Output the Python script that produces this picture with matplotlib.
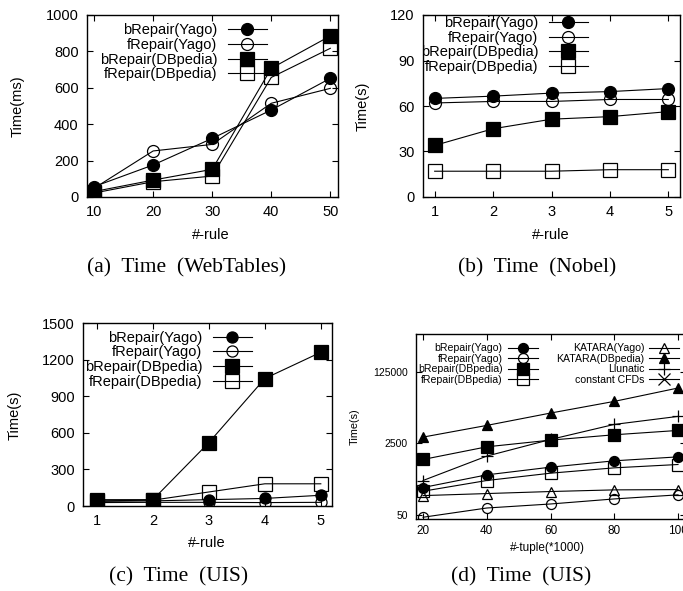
import numpy as np
import matplotlib
matplotlib.use("Agg")
import matplotlib.pyplot as plt
from matplotlib.ticker import NullLocator, FixedLocator, FixedFormatter

# ---- data ----
rules_a = [10, 20, 30, 40, 50]
brepair_yago_a = [57, 176, 322, 478, 652]
frepair_yago_a = [48, 253, 289, 515, 597]
brepair_dbp_a = [30, 93, 152, 707, 885]
frepair_dbp_a = [22, 84, 115, 657, 817]

rules_b = [1, 2, 3, 4, 5]
brepair_yago_b = [65, 66.5, 68.5, 69.5, 71.5]
frepair_yago_b = [62, 63, 63, 64.3, 64.3]
brepair_dbp_b = [34, 45, 51.3, 53, 56.3]
frepair_dbp_b = [17, 17, 17, 18, 18]

rules_c = [1, 2, 3, 4, 5]
brepair_yago_c = [38, 42, 52, 62, 88]
frepair_yago_c = [28, 30, 30, 28, 30]
brepair_dbp_c = [52, 52, 520, 1045, 1260]
frepair_dbp_c = [42, 48, 115, 182, 182]

tuples_d = [20, 40, 60, 80, 100]
brepair_yago_d = [224, 448, 683, 967, 1200]
frepair_yago_d = [44, 73, 91, 120, 150]
brepair_dbp_d = [1040, 2080, 3000, 4020, 5100]
frepair_dbp_d = [183, 329, 491, 658, 790]
katara_yago_d = [144, 161, 180, 197, 200]
katara_dbp_d = [3540, 6710, 13200, 25000, 52000]
llunatic_d = [329, 1250, 3110, 7090, 11000]
cfd_d = []  # listed in the legend, no points drawn

yticks_a = [0, 200, 400, 600, 800, 1000]
yticks_b = [0, 30, 60, 90, 120]
yticks_c = [0, 300, 600, 900, 1200, 1500]
yticks_d = [50, 2500, 125000]

series_names = ["bRepair(Yago)", "fRepair(Yago)", "bRepair(DBpedia)", "fRepair(DBpedia)"]

W, H = 683, 591
plt.rcParams["font.family"] = ["Liberation Sans", "DejaVu Sans"]
fig = plt.figure(figsize=(W / 100, H / 100), dpi=100)


def axes_px(l, t, r, b):
    return fig.add_axes([l / W, 1 - b / H, (r - l) / W, (b - t) / H])


def fig_text(x, y, s, **kw):
    fig.text(x / W, 1 - y / H, s, ha="center", va="center", **kw)


def style_axes(ax, fs, pad=6):
    ax.tick_params(direction="in", top=True, right=True, length=4, width=0.8,
                   labelsize=fs, pad=pad)
    for sp in ax.spines.values():
        sp.set_linewidth(1.0)


def plot_four(ax, x, ys, msc, mss, mew=0.9, lw=0.8):
    markers = ["o", "o", "s", "s"]
    fills = ["black", "none", "black", "none"]
    sizes = [msc, msc, mss, mss]
    for y, m, f, s, name in zip(ys, markers, fills, sizes, series_names):
        ax.plot(x, y, color="black", lw=lw, marker=m, ms=s, mfc=f, mec="black",
                mew=mew, label=name)


FS = 10.5
CAP = 15.5
leg_kw = dict(frameon=False, markerfirst=False, borderpad=0, borderaxespad=0,
              handletextpad=0.7, labelspacing=0.05)

# (a) WebTables
ax = axes_px(87, 15, 338, 197)
plot_four(ax, rules_a, [brepair_yago_a, frepair_yago_a, brepair_dbp_a, frepair_dbp_a], 8.6, 9.4)
ax.set_xlim(8.8, 51.3)
ax.set_ylim(0, 1000)
ax.set_xticks(rules_a)
ax.set_yticks(yticks_a)
style_axes(ax, FS)
ax.legend(loc="upper right", bbox_to_anchor=(0.717, 0.955), fontsize=FS,
          handlelength=2.7, **leg_kw)
fig_text(18, 106, "Time(ms)", rotation=90, fontsize=FS)
fig_text(211, 235, "#-rule", fontsize=FS)
fig_text(187, 268, "(a)  Time  (WebTables)", fontsize=CAP, family="Liberation Serif")

# (b) Nobel
ax = axes_px(423, 15, 680, 197)
plot_four(ax, rules_b, [brepair_yago_b, frepair_yago_b, brepair_dbp_b, frepair_dbp_b], 8.6, 10)
ax.set_xlim(0.8, 5.2)
ax.set_ylim(0, 120)
ax.set_xticks(rules_b)
ax.set_yticks(yticks_b)
style_axes(ax, FS)
ax.legend(loc="upper right", bbox_to_anchor=(0.642, 0.995), fontsize=FS,
          handlelength=2.7, **leg_kw)
fig_text(363, 106, "Time(s)", rotation=90, fontsize=FS)
fig_text(551, 235, "#-rule", fontsize=FS)
fig_text(537, 268, "(b)  Time  (Nobel)", fontsize=CAP, family="Liberation Serif")

# (c) UIS
ax = axes_px(83, 323, 332, 506)
plot_four(ax, rules_c, [brepair_yago_c, frepair_yago_c, brepair_dbp_c, frepair_dbp_c], 8.0, 9.4)
ax.set_xlim(0.75, 5.2)
ax.set_ylim(0, 1500)
ax.set_xticks(rules_c)
ax.set_yticks(yticks_c)
style_axes(ax, FS)
ax.legend(loc="upper right", bbox_to_anchor=(0.679, 0.958), fontsize=FS,
          handlelength=2.7, **leg_kw)
fig_text(15, 415, "Time(s)", rotation=90, fontsize=FS)
fig_text(207, 543, "#-rule", fontsize=FS)
fig_text(179, 577, "(c)  Time  (UIS)", fontsize=CAP, family="Liberation Serif")

# (d) UIS, scaling in #-tuple
ax = axes_px(416, 334, 686, 519)
plot_four(ax, tuples_d, [brepair_yago_d, frepair_yago_d, brepair_dbp_d, frepair_dbp_d], 7.2, 8.2)
ax.plot(tuples_d, katara_yago_d, color="black", lw=0.8, marker="^", ms=7.2,
        mfc="none", mec="black", mew=0.9, label="KATARA(Yago)")
ax.plot(tuples_d, katara_dbp_d, color="black", lw=0.8, marker="^", ms=7.2,
        mfc="black", mec="black", mew=0.9, label="KATARA(DBpedia)")
ax.plot(tuples_d, llunatic_d, color="black", lw=0.8, marker="+", ms=9,
        mew=0.9, label="Llunatic")
ax.plot(tuples_d[:len(cfd_d)], cfd_d, color="black", lw=0.8, marker="x", ms=8,
        mew=0.9, label="constant CFDs")
ax.set_yscale("log")
ax.set_xlim(17.8, 102.5)
ax.set_ylim(40, 1.0e6)
ax.xaxis.set_major_locator(FixedLocator(tuples_d))
ax.yaxis.set_major_locator(FixedLocator(yticks_d))
ax.yaxis.set_major_formatter(FixedFormatter([str(v) for v in yticks_d]))
ax.yaxis.set_minor_locator(NullLocator())
style_axes(ax, 8.5, pad=4)
ax.tick_params(axis="y", labelsize=7.5, pad=6)
h, lab = ax.get_legend_handles_labels()
leg_d = dict(frameon=False, markerfirst=False, borderpad=0, borderaxespad=0,
             handletextpad=0.5, labelspacing=0.05, fontsize=7.6, handlelength=2.8)
first = ax.legend(h[:4], lab[:4], loc="upper right", bbox_to_anchor=(0.45, 0.95), **leg_d)
ax.add_artist(first)
ax.legend(h[4:], lab[4:], loc="upper right", bbox_to_anchor=(0.974, 0.95), **leg_d)
fig_text(355, 427, "Time(s)", rotation=90, fontsize=7.8)
fig_text(547, 548, "#-tuple(*1000)", fontsize=8.5)
fig_text(521, 577, "(d)  Time  (UIS)", fontsize=CAP, family="Liberation Serif")

fig.savefig("out.png", dpi=100, facecolor="white")
